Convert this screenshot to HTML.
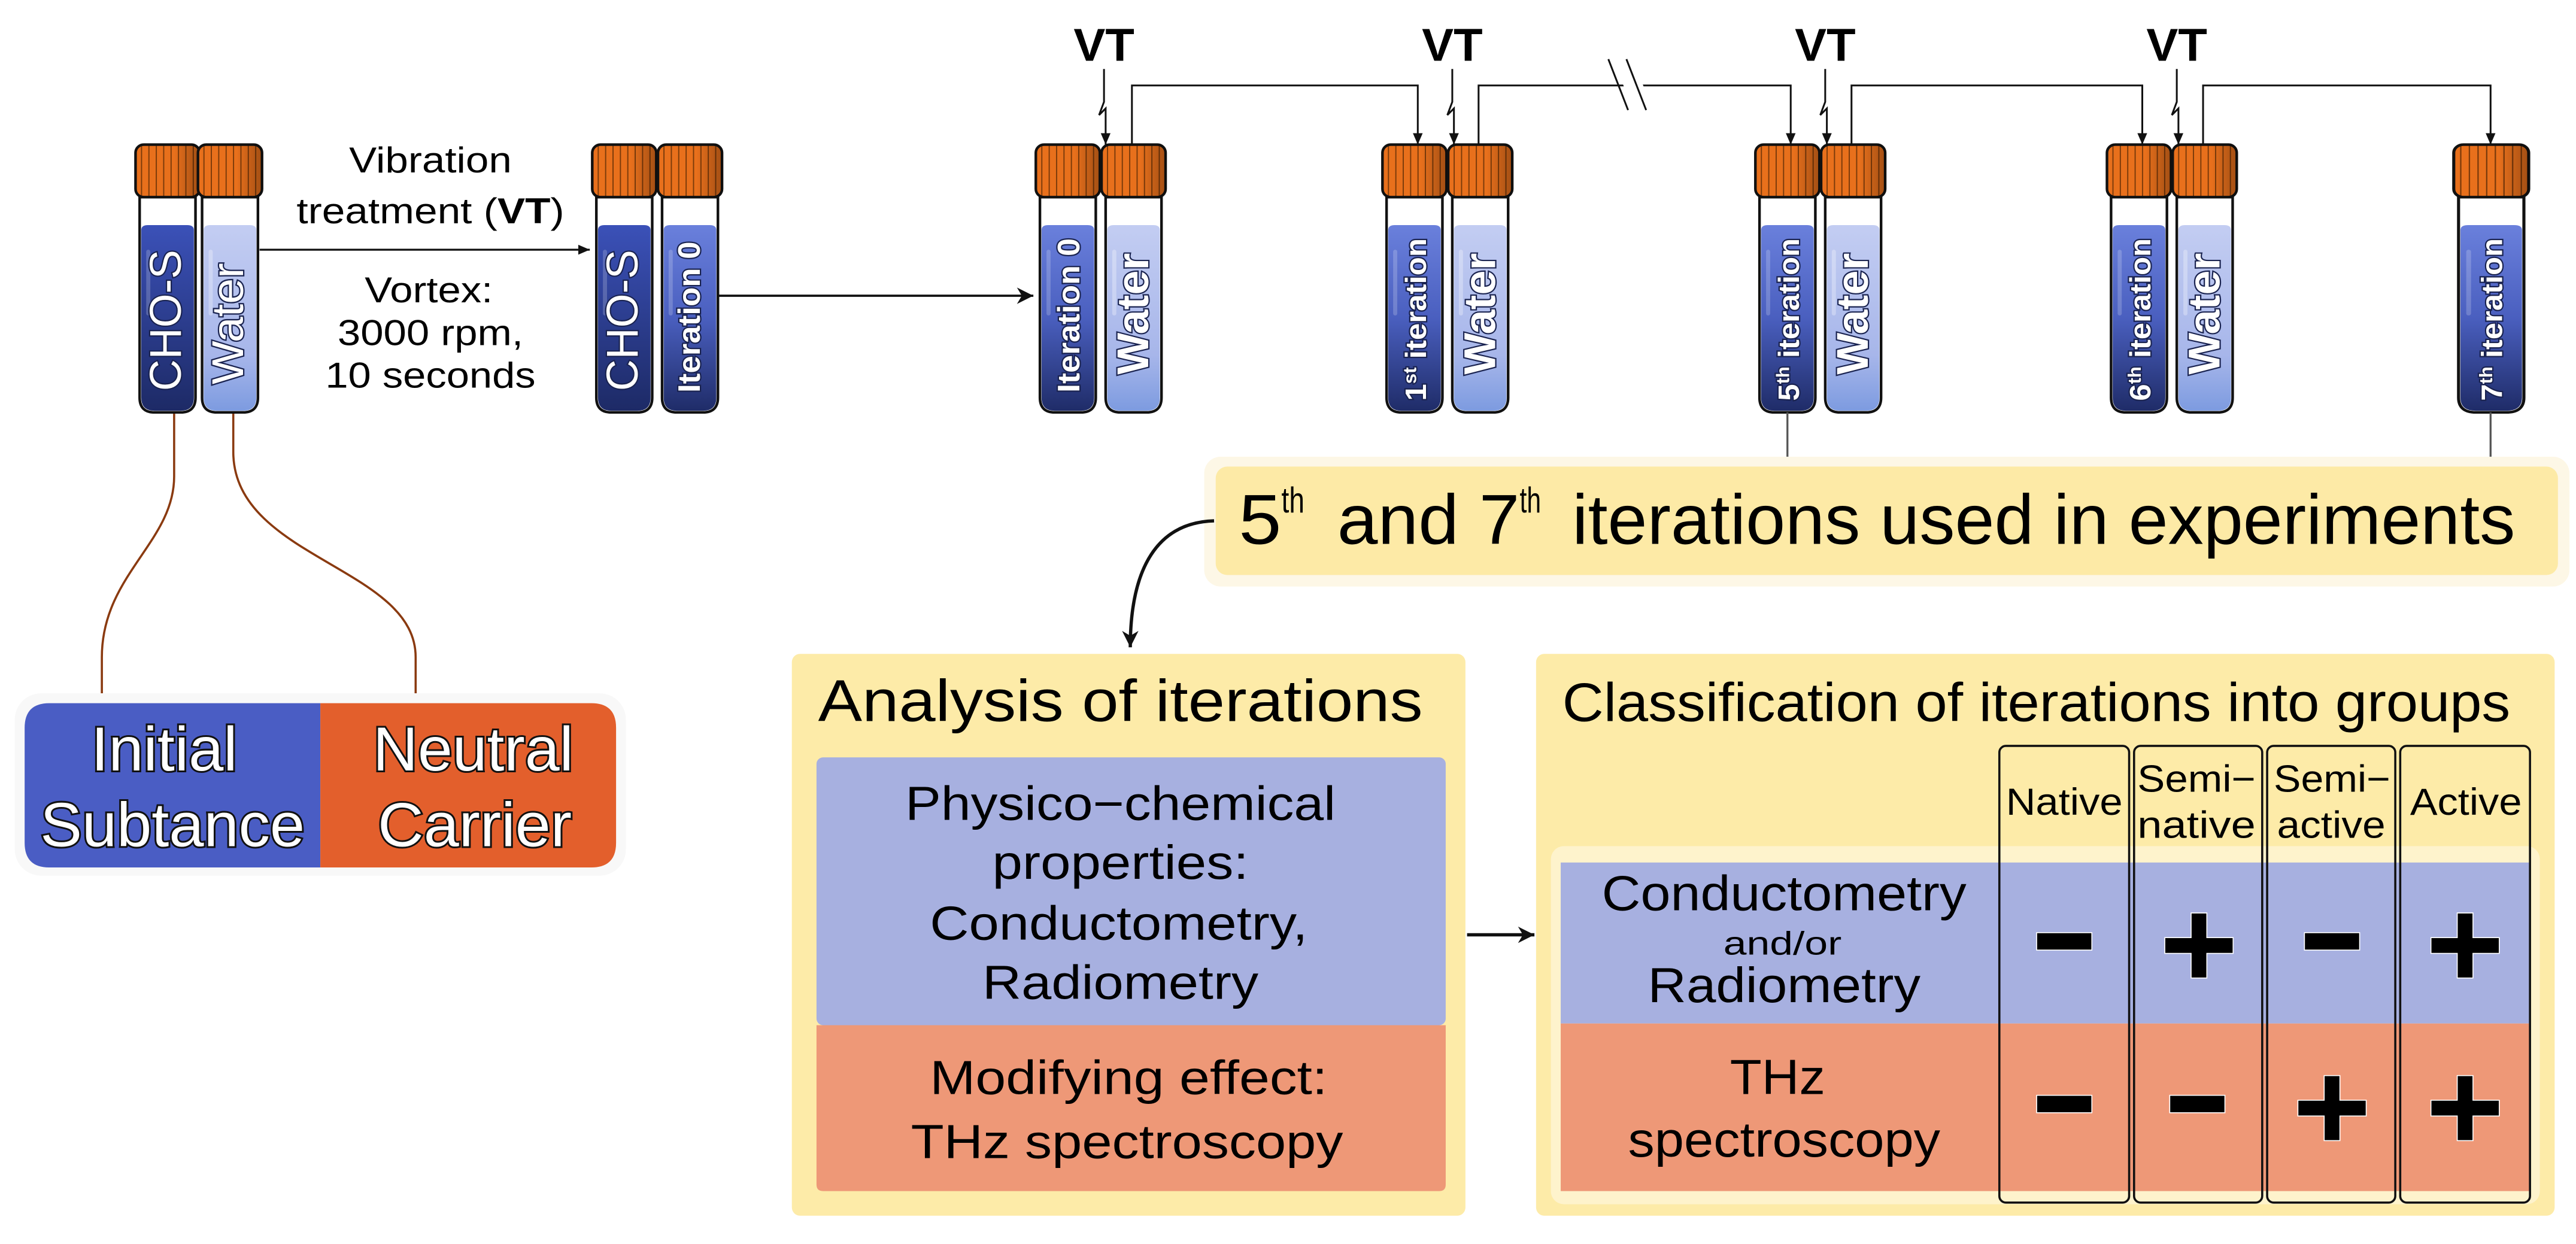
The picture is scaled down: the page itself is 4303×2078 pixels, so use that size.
<!DOCTYPE html>
<html><head><meta charset="utf-8"><style>
html,body{margin:0;padding:0;background:#fff;}
svg{display:block;}
text{font-family:"Liberation Sans",sans-serif;}
.tt{fill:#fff;stroke:#1a2350;stroke-width:1.6px;paint-order:stroke;font-weight:bold;}
</style></head><body>
<svg width="4303" height="2078" viewBox="0 0 1568 757.2" xmlns="http://www.w3.org/2000/svg">
<defs>
<pattern id="st" patternUnits="userSpaceOnUse" width="4.5" height="10">
<rect width="4.5" height="10" fill="#e8701c"/><rect x="3.8" width="0.7" height="10" fill="#7a3a0a"/>
</pattern>
<linearGradient id="capsh" x1="0" x2="1" y1="0" y2="0">
<stop offset="0.6" stop-color="#000" stop-opacity="0"/><stop offset="1" stop-color="#000" stop-opacity="0.3"/>
</linearGradient>
<linearGradient id="gD" x1="0" x2="0" y1="0" y2="1"><stop offset="0" stop-color="#3b51b8"/><stop offset="1" stop-color="#1d2a66"/></linearGradient>
<linearGradient id="gM" x1="0" x2="0" y1="0" y2="1"><stop offset="0" stop-color="#6a80dc"/><stop offset="0.5" stop-color="#4a5fbf"/><stop offset="1" stop-color="#1f2c68"/></linearGradient>
<linearGradient id="gL" x1="0" x2="0" y1="0" y2="1"><stop offset="0" stop-color="#c3cdf2"/><stop offset="0.7" stop-color="#a7b6ea"/><stop offset="1" stop-color="#7d9be0"/></linearGradient>
<g id="body">
<path d="M3,120 V242 Q3,251 12,251 H28 Q37,251 37,242 V120 Z" fill="#fff" stroke="#111" stroke-width="1.6"/>
</g>
<g id="cap"><rect x="0.5" y="88" width="39" height="32" rx="5" fill="url(#st)" stroke="#111" stroke-width="1.6"/><rect x="0.5" y="88" width="39" height="32" rx="5" fill="url(#capsh)"/></g>
<g id="tD"><use href="#body"/><path d="M4,140 Q4,137 8,137 H32 Q36,137 36,140 V242 Q36,250 28,250 H12 Q4,250 4,242 Z" fill="url(#gD)"/><rect x="7" y="152" width="2.5" height="40" rx="1.2" fill="#fff" opacity="0.2"/><use href="#cap"/></g>
<g id="tM"><use href="#body"/><path d="M4,140 Q4,137 8,137 H32 Q36,137 36,140 V242 Q36,250 28,250 H12 Q4,250 4,242 Z" fill="url(#gM)"/><rect x="7" y="152" width="2.5" height="40" rx="1.2" fill="#fff" opacity="0.2"/><use href="#cap"/></g>
<g id="tL"><use href="#body"/><path d="M4,140 Q4,137 8,137 H32 Q36,137 36,140 V242 Q36,250 28,250 H12 Q4,250 4,242 Z" fill="url(#gL)"/><rect x="7" y="152" width="2.5" height="40" rx="1.2" fill="#fff" opacity="0.3"/><use href="#cap"/></g>
<marker id="ah" markerWidth="8" markerHeight="8" refX="7" refY="4" orient="auto" markerUnits="userSpaceOnUse"><path d="M0,1 L7,4 L0,7 Z" fill="#111"/></marker>
<marker id="ah2" markerWidth="12" markerHeight="12" refX="10" refY="6" orient="auto" markerUnits="userSpaceOnUse"><path d="M0,1 L10,6 L0,11 L3,6 Z" fill="#111"/></marker>
</defs>

<!-- brown curves -->
<path d="M106,251 V290 C106,330 62,350 62,400 V422" fill="none" stroke="#8a3a10" stroke-width="1.3"/>
<path d="M142,251 V275 C142,340 253,345 253,400 V422" fill="none" stroke="#8a3a10" stroke-width="1.3"/>

<!-- tubes -->
<use href="#tD" x="82"/><use href="#tL" x="120"/>
<use href="#tD" x="360"/><use href="#tM" x="400"/>
<use href="#tM" x="630"/><use href="#tL" x="670"/>
<use href="#tM" x="841"/><use href="#tL" x="881"/>
<use href="#tM" x="1068"/><use href="#tL" x="1108"/>
<use href="#tM" x="1282"/><use href="#tL" x="1322"/>
<g transform="translate(1493,0) scale(1.17,1)"><use href="#tM"/></g>

<!-- tube labels -->
<g class="tt">
<text transform="translate(110,238) rotate(-90)" font-size="27" font-weight="normal" textLength="86" lengthAdjust="spacingAndGlyphs">CHO-S</text>
<text transform="translate(148,234) rotate(-90)" font-size="27" font-weight="normal" textLength="74" lengthAdjust="spacingAndGlyphs">Water</text>
<text transform="translate(388,238) rotate(-90)" font-size="27" font-weight="normal" textLength="86" lengthAdjust="spacingAndGlyphs">CHO-S</text>
<text transform="translate(426,239) rotate(-90)" font-size="19" textLength="92" lengthAdjust="spacingAndGlyphs">Iteration 0</text>
<text transform="translate(657,239) rotate(-90)" font-size="19" textLength="94" lengthAdjust="spacingAndGlyphs">Iteration 0</text>
<text transform="translate(699,228) rotate(-90)" font-size="27" textLength="74" lengthAdjust="spacingAndGlyphs">Water</text>
<text transform="translate(868,244) rotate(-90)" font-size="18" textLength="99" lengthAdjust="spacingAndGlyphs">1<tspan font-size="11" dy="-6">st</tspan><tspan dy="6"> iteration</tspan></text>
<text transform="translate(910,228) rotate(-90)" font-size="27" textLength="74" lengthAdjust="spacingAndGlyphs">Water</text>
<text transform="translate(1095,244) rotate(-90)" font-size="18" textLength="99" lengthAdjust="spacingAndGlyphs">5<tspan font-size="11" dy="-6">th</tspan><tspan dy="6"> iteration</tspan></text>
<text transform="translate(1137,228) rotate(-90)" font-size="27" textLength="74" lengthAdjust="spacingAndGlyphs">Water</text>
<text transform="translate(1309,244) rotate(-90)" font-size="18" textLength="99" lengthAdjust="spacingAndGlyphs">6<tspan font-size="11" dy="-6">th</tspan><tspan dy="6"> iteration</tspan></text>
<text transform="translate(1351,228) rotate(-90)" font-size="27" textLength="74" lengthAdjust="spacingAndGlyphs">Water</text>
<text transform="translate(1523,244) rotate(-90)" font-size="18" textLength="99" lengthAdjust="spacingAndGlyphs">7<tspan font-size="11" dy="-6">th</tspan><tspan dy="6"> iteration</tspan></text>
</g>

<!-- first arrows -->
<line x1="158" y1="152" x2="359" y2="152" stroke="#111" stroke-width="1.2" marker-end="url(#ah)"/>
<line x1="437" y1="180" x2="629" y2="180" stroke="#111" stroke-width="1.4" marker-end="url(#ah2)"/>
<g font-size="22" text-anchor="middle">
<text x="262" y="105" textLength="99" lengthAdjust="spacingAndGlyphs">Vibration</text>
<text x="262" y="136" textLength="163" lengthAdjust="spacingAndGlyphs">treatment (<tspan font-weight="bold">VT</tspan>)</text>
<text x="261" y="184" textLength="78" lengthAdjust="spacingAndGlyphs">Vortex:</text>
<text x="262" y="210" textLength="113" lengthAdjust="spacingAndGlyphs">3000 rpm,</text>
<text x="262" y="236" textLength="128" lengthAdjust="spacingAndGlyphs">10 seconds</text>
</g>

<!-- VT labels and lightning arrows -->
<g font-size="28" font-weight="bold" text-anchor="middle">
<text x="672" y="37" textLength="37" lengthAdjust="spacingAndGlyphs">VT</text>
<text x="884" y="37" textLength="37" lengthAdjust="spacingAndGlyphs">VT</text>
<text x="1111" y="37" textLength="37" lengthAdjust="spacingAndGlyphs">VT</text>
<text x="1325" y="37" textLength="37" lengthAdjust="spacingAndGlyphs">VT</text>
</g>
<g fill="none" stroke="#111" stroke-width="1.1">
<path d="M672,42 V62 L669,70 L673,66 V88" marker-end="url(#ah)"/>
<path d="M884,42 V62 L881,70 L885,66 V88" marker-end="url(#ah)"/>
<path d="M1111,42 V62 L1108,70 L1112,66 V88" marker-end="url(#ah)"/>
<path d="M1325,42 V62 L1322,70 L1326,66 V88" marker-end="url(#ah)"/>
<path d="M689,88 V52 H863 V88" marker-end="url(#ah)"/>
<path d="M900,88 V52 H1090 V88" marker-end="url(#ah)"/>
<path d="M1127,88 V52 H1304 V88" marker-end="url(#ah)"/>
<path d="M1341,88 V52 H1516 V88" marker-end="url(#ah)"/>
</g>
<polygon points="982,36 994,36 1006,67 994,67" fill="#fff"/>
<line x1="979" y1="36" x2="991" y2="67" stroke="#111" stroke-width="1.1"/>
<line x1="990" y1="36" x2="1002" y2="67" stroke="#111" stroke-width="1.1"/>

<!-- down lines to box -->
<line x1="1088" y1="251" x2="1088" y2="285" stroke="#555" stroke-width="1.2"/>
<line x1="1516" y1="251" x2="1516" y2="285" stroke="#555" stroke-width="1.2"/>

<!-- 5th and 7th box -->
<rect x="733" y="278" width="831" height="79" rx="10" fill="#fdf7e6"/>
<rect x="740" y="284" width="817" height="66" rx="7" fill="#fdeaa6"/>
<g font-size="43">
<text x="754" y="331" textLength="26" lengthAdjust="spacingAndGlyphs">5</text>
<text x="780" y="312" font-size="22" textLength="14" lengthAdjust="spacingAndGlyphs">th</text>
<text x="814" y="331" textLength="111" lengthAdjust="spacingAndGlyphs">and 7</text>
<text x="925" y="312" font-size="22" textLength="13" lengthAdjust="spacingAndGlyphs">th</text>
<text x="957" y="331" textLength="574" lengthAdjust="spacingAndGlyphs">iterations used in experiments</text>
</g>
<path d="M739,317 C705,318 688,345 688,394" fill="none" stroke="#111" stroke-width="2" marker-end="url(#ah2)"/>

<!-- Initial substance box -->
<rect x="9" y="422" width="372" height="111" rx="16" fill="#f8f8f8"/>
<path d="M30,428 H195 V528 H30 Q15,528 15,513 V443 Q15,428 30,428 Z" fill="#4a5dc4"/>
<path d="M195,428 H360 Q375,428 375,443 V513 Q375,528 360,528 H195 Z" fill="#e35f2c"/>
<g font-size="38" fill="#fff" stroke="#111" stroke-width="2.2" style="paint-order:stroke" text-anchor="middle">
<text x="100" y="469" textLength="89" lengthAdjust="spacingAndGlyphs">Initial</text>
<text x="105" y="515" textLength="161" lengthAdjust="spacingAndGlyphs">Subtance</text>
<text x="288" y="469" textLength="122" lengthAdjust="spacingAndGlyphs">Neutral</text>
<text x="289" y="515" textLength="118" lengthAdjust="spacingAndGlyphs">Carrier</text>
</g>

<!-- Analysis box -->
<rect x="482" y="398" width="410" height="342" rx="5" fill="#fdeba8"/>
<text x="498" y="439" font-size="36" textLength="368" lengthAdjust="spacingAndGlyphs">Analysis of iterations</text>
<rect x="497" y="461" width="383" height="163" rx="4" fill="#a7b0e0"/>
<path d="M497,624 H880 V721 Q880,725 876,725 H501 Q497,725 497,721 Z" fill="#ee9877"/>
<g font-size="29" text-anchor="middle">
<text x="682" y="499" textLength="262" lengthAdjust="spacingAndGlyphs">Physico−chemical</text>
<text x="682" y="535" textLength="156" lengthAdjust="spacingAndGlyphs">properties:</text>
<text x="681" y="572" textLength="230" lengthAdjust="spacingAndGlyphs">Conductometry,</text>
<text x="682" y="608" textLength="168" lengthAdjust="spacingAndGlyphs">Radiometry</text>
<text x="687" y="666" textLength="242" lengthAdjust="spacingAndGlyphs">Modifying effect:</text>
<text x="686" y="705" textLength="263" lengthAdjust="spacingAndGlyphs">THz spectroscopy</text>
</g>
<line x1="893" y1="569" x2="934" y2="569" stroke="#111" stroke-width="2" marker-end="url(#ah2)"/>

<!-- Classification box -->
<rect x="935" y="398" width="620" height="342" rx="5" fill="#fdeba8"/>
<text x="951" y="439" font-size="33" textLength="577" lengthAdjust="spacingAndGlyphs">Classification of iterations into groups</text>
<rect x="944" y="515" width="602" height="218" rx="8" fill="#fef3cc"/>
<rect x="950" y="525" width="590" height="98" fill="#a7b0e0"/>
<rect x="950" y="623" width="590" height="102" fill="#ee9877"/>
<g font-size="30" text-anchor="middle">
<text x="1086" y="554" textLength="222" lengthAdjust="spacingAndGlyphs">Conductometry</text>
<text x="1085" y="581" font-size="20" textLength="72" lengthAdjust="spacingAndGlyphs">and/or</text>
<text x="1086" y="610" textLength="166" lengthAdjust="spacingAndGlyphs">Radiometry</text>
<text x="1082" y="666" textLength="58" lengthAdjust="spacingAndGlyphs">THz</text>
<text x="1086" y="704" textLength="190" lengthAdjust="spacingAndGlyphs">spectroscopy</text>
</g>
<g fill="none" stroke="#111" stroke-width="1.3">
<rect x="1217" y="454" width="79" height="278" rx="4"/>
<rect x="1299" y="454" width="78" height="278" rx="4"/>
<rect x="1380" y="454" width="78" height="278" rx="4"/>
<rect x="1461" y="454" width="79" height="278" rx="4"/>
</g>
<g font-size="23" text-anchor="middle">
<text x="1256.5" y="496" textLength="71" lengthAdjust="spacingAndGlyphs">Native</text>
<text x="1337" y="482" textLength="72" lengthAdjust="spacingAndGlyphs">Semi−</text>
<text x="1337" y="510" textLength="72" lengthAdjust="spacingAndGlyphs">native</text>
<text x="1419.5" y="482" textLength="71" lengthAdjust="spacingAndGlyphs">Semi−</text>
<text x="1419" y="510" textLength="66" lengthAdjust="spacingAndGlyphs">active</text>
<text x="1501" y="496" textLength="68" lengthAdjust="spacingAndGlyphs">Active</text>
</g>
<g fill="#000" stroke="#fff" stroke-width="1.2" style="paint-order:stroke">
<!-- row 1 -->
<rect x="1240" y="568" width="33" height="10"/>
<path d="M1334,556 h9 v15 h16 v9 h-16 v15 h-9 v-15 h-16 v-9 h16 z"/>
<rect x="1403" y="568" width="33" height="10"/>
<path d="M1496,556 h9 v15 h16 v9 h-16 v15 h-9 v-15 h-16 v-9 h16 z"/>
<!-- row 2 -->
<rect x="1240" y="667" width="33" height="10"/>
<rect x="1321" y="667" width="33" height="10"/>
<path d="M1415,655 h9 v15 h16 v9 h-16 v15 h-9 v-15 h-16 v-9 h16 z"/>
<path d="M1496,655 h9 v15 h16 v9 h-16 v15 h-9 v-15 h-16 v-9 h16 z"/>
</g>
</svg>
</body></html>
